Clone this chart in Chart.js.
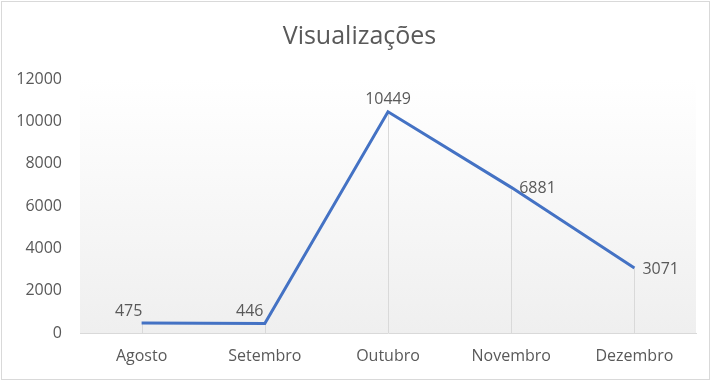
<!DOCTYPE html>
<html>
<head>
<meta charset="utf-8">
<script src="https://cdn.jsdelivr.net/npm/chart.js@4"></script>
<style>
  body { margin: 0; background: #fff; }
  #wrap { width: 719px; height: 382px; }
</style>
</head>
<body>
<div id="wrap"><canvas id="lineChart"></canvas></div>
<script>
// Visualizações por mês
const meses = ['Agosto', 'Setembro', 'Outubro', 'Novembro', 'Dezembro'];
const visualizacoes = [475, 446, 10449, 6881, 3071];
const yTicks = [0, 2000, 4000, 6000, 8000, 10000, 12000];

const textColor = '#595959';
const fontFamily = '"Open Sans", "Liberation Sans", sans-serif';

// fundo em degradê + linhas de queda + rótulos + moldura
const excelLook = {
  id: 'excelLook',
  beforeDraw(chart) {
    const { ctx, chartArea: a } = chart;
    const g = ctx.createLinearGradient(0, a.top, 0, a.bottom);
    g.addColorStop(0, '#ffffff');
    g.addColorStop(1, '#efefef');
    ctx.save();
    ctx.fillStyle = g;
    ctx.fillRect(a.left, a.top, a.right - a.left, a.bottom - a.top);
    ctx.restore();
  },
  beforeDatasetsDraw(chart) {
    const { ctx, chartArea: a } = chart;
    const meta = chart.getDatasetMeta(0);
    ctx.save();
    ctx.strokeStyle = '#d9d9d9';
    ctx.lineWidth = 1;
    meta.data.forEach(p => {
      const x = Math.round(p.x) + 0.5;
      ctx.beginPath();
      ctx.moveTo(x, p.y);
      ctx.lineTo(x, a.bottom);
      ctx.stroke();
    });
    ctx.restore();
  },
  afterDatasetsDraw(chart) {
    const { ctx } = chart;
    const meta = chart.getDatasetMeta(0);
    const pos = ['above', 'above', 'above', 'right', 'right'];
    const shift = [-13, -15, 0, 0, 0];
    ctx.save();
    ctx.font = '16px ' + fontFamily;
    ctx.fillStyle = textColor;
    meta.data.forEach((p, i) => {
      const v = String(chart.data.datasets[0].data[i]);
      if (pos[i] === 'above') {
        ctx.textAlign = 'center';
        ctx.textBaseline = 'middle';
        ctx.fillText(v, p.x + shift[i], p.y - 12);
      } else {
        ctx.textAlign = 'left';
        ctx.textBaseline = 'middle';
        ctx.fillText(v, p.x + 8, p.y + 1);
      }
    });
    ctx.restore();
  },
  afterDraw(chart) {
    const { ctx } = chart;
    ctx.save();
    ctx.strokeStyle = '#d9d9d9';
    ctx.lineWidth = 1;
    ctx.strokeRect(1.5, 1.5, 708, 378);
    ctx.restore();
  }
};

new Chart(document.getElementById('lineChart').getContext('2d'), {
  type: 'line',
  data: {
    labels: meses,
    datasets: [{
      label: 'Visualizações',
      data: visualizacoes,
      borderColor: '#4472C4',
      borderWidth: 3,
      pointRadius: 0,
      tension: 0,
      fill: false,
    }],
  },
  options: {
    responsive: true,
    maintainAspectRatio: false,
    animation: false,
    layout: { padding: { left: 0, right: 0, top: 0, bottom: 16 } },
    plugins: {
      legend: { display: false },
      tooltip: { enabled: false },
      title: {
        display: true,
        text: 'Visualizações',
        color: textColor,
        font: { family: fontFamily, size: 25, weight: 'normal' },
        padding: { top: 22, bottom: 27 },
      },
    },
    scales: {
      x: {
        offset: true,
        afterFit(scale) { scale.height = 33; },
        grid: { display: false, drawTicks: false },
        border: { display: true, color: '#d9d9d9', width: 1 },
        ticks: {
          color: textColor,
          font: { family: fontFamily, size: 16 },
          padding: 13.5,
          maxRotation: 0,
        },
      },
      y: {
        min: 0,
        max: 12000,
        afterFit(scale) { scale.width = 80; },
        afterBuildTicks(scale) { scale.ticks = yTicks.map(v => ({ value: v })); },
        grid: { display: false, drawTicks: false },
        border: { display: false },
        ticks: {
          color: textColor,
          font: { family: fontFamily, size: 16 },
          padding: 18,
          callback: v => String(v),
        },
      },
      // eixo vazio à direita só para reservar espaço
      yRight: {
        position: 'right',
        min: 0,
        max: 12000,
        afterFit(scale) { scale.width = 23; },
        grid: { display: false, drawTicks: false },
        border: { display: false },
        ticks: { display: false },
      },
    },
  },
  plugins: [excelLook],
});
</script>
</body>
</html>
